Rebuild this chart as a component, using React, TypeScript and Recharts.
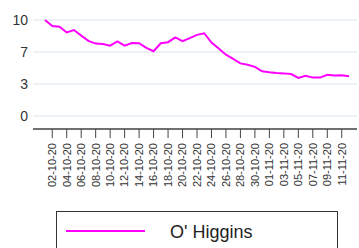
import { CartesianGrid, Legend, Line, LineChart, XAxis, YAxis } from "recharts";

const dates = [
  "01-10-20", "02-10-20", "03-10-20", "04-10-20", "05-10-20", "06-10-20", "07-10-20",
  "08-10-20", "09-10-20", "10-10-20", "11-10-20", "12-10-20", "13-10-20", "14-10-20",
  "15-10-20", "16-10-20", "17-10-20", "18-10-20", "19-10-20", "20-10-20", "21-10-20",
  "22-10-20", "23-10-20", "24-10-20", "25-10-20", "26-10-20", "27-10-20", "28-10-20",
  "29-10-20", "30-10-20", "31-10-20", "01-11-20", "02-11-20", "03-11-20", "04-11-20",
  "05-11-20", "06-11-20", "07-11-20", "08-11-20", "09-11-20", "10-11-20", "11-11-20",
  "12-11-20",
];

const ohiggins = [
  10.0, 9.38, 9.3, 8.7, 8.95, 8.37, 7.83, 7.54, 7.5, 7.32, 7.76,
  7.32, 7.6, 7.58, 7.1, 6.75, 7.58, 7.69, 8.19, 7.8, 8.12, 8.45,
  8.62, 7.65, 7.04, 6.39, 5.96, 5.48, 5.34, 5.12, 4.66, 4.55, 4.47,
  4.44, 4.37, 3.97, 4.18, 4.0, 4.0, 4.29, 4.22, 4.25, 4.15,
];

const tickDates = dates.filter((_, i) => i % 2 === 1);
const yTicks = [0, 10 / 3, 20 / 3, 10];

const data = dates.map((d, i) => ({ date: d, value: ohiggins[i] }));

const font = "'Liberation Sans', Arial, sans-serif";

function DateTick(props: any) {
  const { x, y, payload } = props;
  return (
    <text
      transform={`translate(${x},${y + 1}) rotate(-90)`}
      textAnchor="end"
      dy="0.35em"
      fontSize={11}
      fontFamily={font}
      fill="#333"
    >
      {payload.value}
    </text>
  );
}

function LegendBox() {
  return (
    <div
      style={{
        width: 282,
        height: 40,
        border: "1px solid #333",
        position: "relative",
        fontFamily: font,
        boxSizing: "border-box",
      }}
    >
      <div
        style={{
          position: "absolute",
          left: 9,
          top: 18,
          width: 79,
          height: 2,
          background: "#ff00ff",
        }}
      />
      <span
        style={{
          position: "absolute",
          left: 113,
          top: 8,
          fontSize: 18,
          color: "#222",
          lineHeight: "24px",
        }}
      >
        O' Higgins
      </span>
    </div>
  );
}

export default function App() {
  return (
    <div>
      <style>{"body{margin:0}"}</style>
      <LineChart
        width={359}
        height={248}
        data={data}
        margin={{ top: 20, right: 2, left: 1, bottom: 0 }}
      >
        <CartesianGrid vertical={false} stroke="#e6ecf2" strokeWidth={1.5} />
        <XAxis
          dataKey="date"
          ticks={tickDates}
          interval={0}
          tick={<DateTick />}
          tickSize={9}
          tickMargin={4}
          height={79}
          padding={{ left: 12, right: 8 }}
          stroke="#444"
          axisLine={{ stroke: "#444", strokeWidth: 1.5 }}
          tickLine={{ stroke: "#444" }}
        />
        <YAxis
          domain={[0, 10]}
          ticks={yTicks}
          tickFormatter={(v: number) => String(Math.round(v))}
          axisLine={false}
          tickLine={false}
          tickSize={0}
          tickMargin={5}
          width={32}
          padding={{ top: 0, bottom: 13 }}
          tick={{ fontSize: 14, fill: "#333", fontFamily: font }}
        />
        <Legend
          content={<LegendBox />}
          wrapperStyle={{ position: "absolute", left: 56, top: 211, width: 282, height: 40 }}
        />
        <Line
          dataKey="value"
          stroke="#ff00ff"
          strokeWidth={2}
          dot={false}
          isAnimationActive={false}
        />
      </LineChart>
    </div>
  );
}
